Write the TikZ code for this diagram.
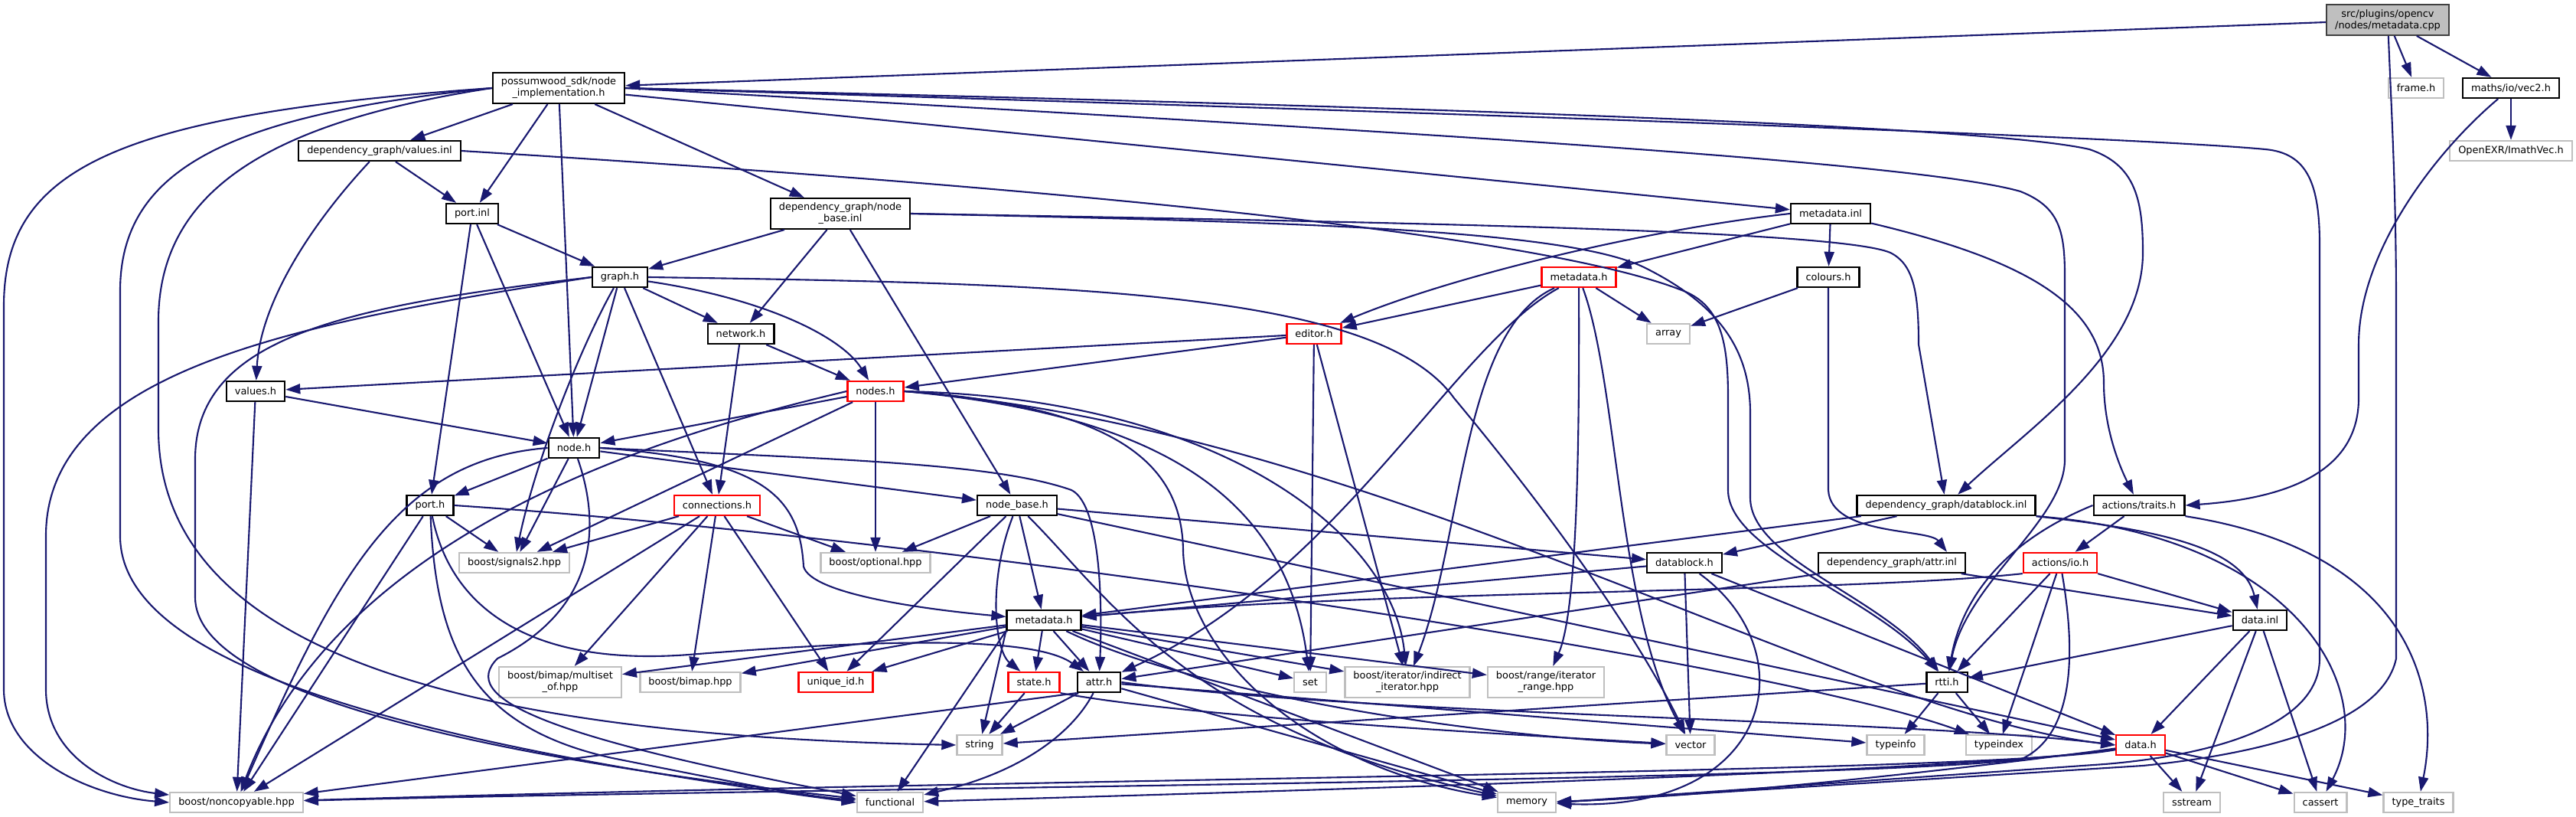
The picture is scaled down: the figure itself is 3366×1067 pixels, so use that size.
\documentclass[tikz,border=0pt]{standalone}
\usepackage{fontspec}
\newfontfamily\doxsans{DejaVu Sans}
\usepackage{tikz}
\usetikzlibrary{arrows.meta, positioning, calc}
\definecolor{edgeblue}{RGB}{25, 25, 112}
\definecolor{extgray}{RGB}{191, 191, 191}
\definecolor{cutred}{RGB}{255, 0, 0}

\begin{document}
\begin{tikzpicture}[x=0.01cm, y=-0.01cm,
  hdr/.style={draw=black, fill=white, line width=0.65pt, align=center,
    font=\doxsans\fontsize{3.67}{4.27}\selectfont,
    inner xsep=0.11cm, inner ysep=1.7pt, minimum height=0.26cm},
  syshdr/.style={hdr, draw=extgray},
  cuthdr/.style={hdr, draw=cutred},
  roothdr/.style={hdr, draw=black!75, fill=extgray},
  incl/.style={draw=edgeblue, line width=0.6pt, -{Triangle[length=0.19cm, width=0.13cm]}}]

  \fill[white] (0,0) rectangle (3366,1067);
  \useasboundingbox (0,0) rectangle (3366,1067);

  % files, row by row
  \node[roothdr] (cpp) at (3120,26) {src/plugins/opencv\\/nodes/metadata.cpp};
  \node[hdr] (nimpl) at (730,115) {possumwood\_sdk/node\\\_implementation.h};
  \node[syshdr] (frame) at (3157,115) {frame.h};
  \node[hdr] (vecii) at (3281,115) {maths/io/vec2.h};
  \node[hdr] (valinl) at (496,197) {dependency\_graph/values.inl};
  \node[syshdr] (imath) at (3281,197) {OpenEXR/ImathVec.h};
  \node[hdr] (portinl) at (617,279) {port.inl};
  \node[hdr] (nbinl) at (1098,279) {dependency\_graph/node\\\_base.inl};
  \node[hdr] (mdinl) at (2392,279) {metadata.inl};
  \node[hdr] (graph) at (810,362) {graph.h};
  \node[cuthdr] (mdred) at (2063,362) {metadata.h};
  \node[hdr] (colours) at (2389,362) {colours.h};
  \node[hdr] (network) at (968,436) {network.h};
  \node[cuthdr] (editor) at (1717,436) {editor.h};
  \node[syshdr] (array) at (2180,436) {array};
  \node[hdr] (values) at (334,511) {values.h};
  \node[cuthdr] (nodes) at (1144,511) {nodes.h};
  \node[hdr] (nodeh) at (750,585) {node.h};
  \node[hdr] (port) at (562,660) {port.h};
  \node[cuthdr] (conn) at (937,660) {connections.h};
  \node[hdr] (nodebase) at (1329,660) {node\_base.h};
  \node[hdr] (dbinl) at (2543,660) {dependency\_graph/datablock.inl};
  \node[hdr] (traits) at (2795,660) {actions/traits.h};
  \node[syshdr] (signals) at (672,735) {boost/signals2.hpp};
  \node[syshdr] (optional) at (1144,735) {boost/optional.hpp};
  \node[hdr] (datablock) at (2201,735) {datablock.h};
  \node[hdr] (attrinl) at (2472,735) {dependency\_graph/attr.inl};
  \node[cuthdr] (io) at (2692,735) {actions/io.h};
  \node[hdr] (dgmeta) at (1364,810) {metadata.h};
  \node[hdr] (datainl) at (2953,810) {data.inl};
  \node[syshdr] (multiset) at (732,891) {boost/bimap/multiset\\\_of.hpp};
  \node[syshdr] (bimap) at (902,891) {boost/bimap.hpp};
  \node[cuthdr] (uid) at (1092,891) {unique\_id.h};
  \node[cuthdr] (state) at (1351,891) {state.h};
  \node[hdr] (attr) at (1436,891) {attr.h};
  \node[syshdr] (set) at (1712,891) {set};
  \node[syshdr] (indirect) at (1839,891) {boost/iterator/indirect\\\_iterator.hpp};
  \node[syshdr] (range) at (2020,891) {boost/range/iterator\\\_range.hpp};
  \node[hdr] (rtti) at (2544,891) {rtti.h};
  \node[syshdr] (string) at (1280,973) {string};
  \node[syshdr] (vector) at (2209,973) {vector};
  \node[syshdr] (typeinfo) at (2477,973) {typeinfo};
  \node[syshdr] (typeindex) at (2612,973) {typeindex};
  \node[cuthdr] (datah) at (2797,973) {data.h};
  \node[syshdr] (noncopy) at (309,1048) {boost/noncopyable.hpp};
  \node[syshdr] (functional) at (1163,1048) {functional};
  \node[syshdr] (memory) at (1995,1048) {memory};
  \node[syshdr] (sstream) at (2864,1048) {sstream};
  \node[syshdr] (cassert) at (3032,1048) {cassert};
  \node[syshdr] (typetraits) at (3160,1048) {type\_traits};

  % short includes
  \foreach \src/\dst in {cpp/frame, cpp/vecii, cpp/nimpl, vecii/imath,
      nimpl/valinl, nimpl/portinl, nimpl/nodeh, nimpl/nbinl, nimpl/mdinl,
      valinl/portinl, portinl/graph, portinl/port, portinl/nodeh,
      nbinl/graph, nbinl/network, nbinl/nodebase,
      mdinl/mdred, mdinl/colours, mdred/editor, mdred/array, colours/array,
      graph/network, graph/nodeh, graph/conn, network/nodes, network/conn,
      editor/nodes, editor/values, editor/set, editor/indirect,
      values/nodeh, values/noncopy, nodes/nodeh, nodes/signals, nodes/optional,
      nodeh/port, nodeh/signals, nodeh/nodebase, port/signals, port/noncopy,
      conn/signals, conn/noncopy, conn/multiset, conn/bimap, conn/uid, conn/optional,
      nodebase/optional, nodebase/datablock, nodebase/dgmeta, nodebase/uid, nodebase/datah,
      dbinl/datablock, dbinl/dgmeta, traits/io, attrinl/datainl, attrinl/attr,
      io/rtti, io/typeindex, io/datainl,
      datablock/dgmeta, datablock/vector, datablock/datah,
      dgmeta/state, dgmeta/attr, dgmeta/set, dgmeta/indirect, dgmeta/range,
      dgmeta/uid, dgmeta/multiset, dgmeta/bimap, dgmeta/memory,
      datainl/rtti, datainl/datah, datainl/sstream, datainl/cassert,
      rtti/typeinfo, rtti/typeindex, rtti/string, state/string,
      attr/string, attr/memory, attr/typeinfo,
      datah/sstream, datah/cassert, datah/typetraits}
    \draw[incl] (\src) -- (\dst);
  \draw[incl] (dgmeta.south west) -- (string);
  \draw[incl] (dgmeta.south west) -- (functional);
  \draw[incl] (attr.south west) -- (noncopy);

  % long includes on the right
  \draw[incl] (cpp) .. controls (3125,150) and (3131,250) .. (3131,400) -- (3131,860)
    .. controls (3110,960) and (2900,990) .. (2800,1000) -- (memory.east);
  \draw[incl] (vecii) .. controls (3180,200) and (3082,330) .. (3082,450) -- (3082,520)
    .. controls (3082,610) and (3000,650) .. (traits.east);
  \draw[incl] (nimpl.east) .. controls (1900,140) and (2600,165) .. (2730,195)
    .. controls (2790,215) and (2800,260) .. (2800,330)
    .. controls (2800,460) and (2650,560) .. (dbinl);
  \draw[incl] (nimpl.east) .. controls (2000,150) and (2800,180) .. (2960,195)
    .. controls (3015,200) and (3031,240) .. (3031,320) -- (3031,860)
    .. controls (3031,960) and (2850,990) .. (2750,998) -- (memory.east);
  \draw[incl] (nimpl.east) .. controls (1800,170) and (2500,210) .. (2640,250)
    .. controls (2690,270) and (2698,300) .. (2698,360) -- (2698,600)
    .. controls (2698,680) and (2570,760) .. (rtti);
  \draw[incl] (valinl.east) .. controls (1300,240) and (2000,300) .. (2200,380)
    .. controls (2250,400) and (2258,450) .. (2258,520) -- (2258,640)
    .. controls (2258,720) and (2450,780) .. (rtti);
  \draw[incl] (nbinl.east) .. controls (1700,290) and (2050,300) .. (2150,350)
    .. controls (2250,400) and (2287,460) .. (2287,540) -- (2287,650)
    .. controls (2287,730) and (2460,780) .. (rtti);
  \draw[incl] (nbinl.east) .. controls (1800,290) and (2400,300) .. (2470,330)
    .. controls (2500,345) and (2507,380) .. (2507,450) -- (dbinl);
  \draw[incl] (mdinl.west) .. controls (2150,300) and (1900,360) .. (editor);
  \draw[incl] (mdinl) .. controls (2650,340) and (2749,400) .. (2749,500)
    .. controls (2749,560) and (2770,610) .. (traits);
  \draw[incl] (colours) -- (2389,640) .. controls (2392,700) and (2520,690)
    .. ([xshift=-0.25cm]attrinl.north east);
  \draw[incl] (mdred) .. controls (1900,450) and (1750,750) .. (attr);
  \draw[incl] (mdred) .. controls (1910,430) and (1912,700) .. (indirect);
  \draw[incl] (mdred) .. controls (2064,600) and (2060,800) .. (range);
  \draw[incl] (mdred) .. controls (2114,500) and (2114,800) .. (vector);
  \draw[incl] (traits.west) .. controls (2600,715) and (2560,800) .. (rtti);
  \draw[incl] (traits.south east) .. controls (3150,720) and (3190,900) .. (typetraits);
  \draw[incl] (dbinl.south east) .. controls (2800,690) and (2930,710) .. (datainl);
  \draw[incl] (dbinl.south east) .. controls (3000,700) and (3110,900) .. (cassert);
  \draw[incl] (io.south west) .. controls (2400,775) and (1800,770) .. (dgmeta);
  \draw[incl] (io) .. controls (2712,850) and (2712,960) .. (2640,992)
    .. controls (2400,1020) and (1000,1030) .. (noncopy);
  \draw[incl] (datablock) .. controls (2360,850) and (2320,1060) .. (memory);
  \draw[incl] (datah) .. controls (2600,1010) and (1400,1015) .. (noncopy);
  \draw[incl] (datah) .. controls (2600,1005) and (1800,1030) .. (functional);
  \draw[incl] (datah) .. controls (2600,1000) and (2250,1040) .. (memory);
  \draw[incl] (attr.east) .. controls (1800,935) and (2500,940) .. (datah.west);
  \draw[incl] (attr) .. controls (1400,960) and (1330,1010) .. (functional);
  \draw[incl] (state.south east) .. controls (1550,935) and (1900,955) .. (vector);
  \draw[incl] (dgmeta) .. controls (1550,900) and (1900,960) .. (vector);

  % middle block
  \draw[incl] (graph) .. controls (1000,390) and (1100,440) .. (nodes);
  \draw[incl] (graph) .. controls (760,450) and (700,600) .. (signals);
  \draw[incl] (graph.east) .. controls (1400,370) and (1800,380) .. (1900,520)
    .. controls (2050,700) and (2150,850) .. (vector);
  \draw[incl] (nodes.east) .. controls (1450,530) and (1545,600) .. (1546,720)
    .. controls (1550,850) and (1700,1000) .. (memory);
  \draw[incl] (nodes.east) .. controls (1500,540) and (1680,640) .. (set);
  \draw[incl] (nodes.east) .. controls (1600,520) and (1820,700) .. (indirect);
  \draw[incl] (nodes.east) .. controls (1800,560) and (2400,930) .. (datah.west);
  \draw[incl] (nodes.west) .. controls (900,560) and (450,680) .. (noncopy);
  \draw[incl] (nodebase) .. controls (1290,760) and (1300,850) .. (state);
  \draw[incl] (nodebase) .. controls (1450,780) and (1550,950) .. (memory);
  \draw[incl] (nodeh.east) .. controls (1100,600) and (1300,605) .. (1400,640)
    .. controls (1440,660) and (1440,800) .. (attr);
  \draw[incl] (nodeh.east) .. controls (1000,600) and (1045,650) .. (1050,740)
    .. controls (1060,775) and (1200,795) .. (dgmeta);
  \draw[incl] (nodeh.west) .. controls (520,600) and (440,750) .. (noncopy);
  \draw[incl] (nodeh) .. controls (790,700) and (770,800) .. (650,860)
    .. controls (600,910) and (700,960) .. (functional);
  \draw[incl] (port) .. controls (590,800) and (700,870) .. (900,855)
    .. controls (1150,835) and (1350,830) .. (attr);
  \draw[incl] (port) .. controls (570,850) and (620,950) .. (800,990)
    .. controls (950,1020) and (1050,1040) .. (functional);
  \draw[incl] (port.east) .. controls (1200,700) and (2300,860) .. (typeindex);
  \draw[incl] (valinl) .. controls (400,300) and (340,400) .. (values);

  % long includes on the left
  \draw[incl] (nimpl.west) .. controls (150,150) and (5,220) .. (5,400) -- (5,900)
    .. controls (5,990) and (120,1040) .. (noncopy.west);
  \draw[incl] (nimpl.west) .. controls (300,150) and (157,220) .. (157,380) -- (157,700)
    .. controls (157,850) and (450,960) .. (functional.west);
  \draw[incl] (nimpl.west) .. controls (350,160) and (207,250) .. (207,420) -- (207,560)
    .. controls (207,850) and (600,960) .. (string.west);
  \draw[incl] (graph.west) .. controls (400,420) and (60,480) .. (60,700) -- (60,900)
    .. controls (60,990) and (150,1030) .. (noncopy);
  \draw[incl] (graph.west) .. controls (450,400) and (255,440) .. (255,600) -- (255,780)
    .. controls (255,900) and (600,985) .. (functional);
\end{tikzpicture}
\end{document}
